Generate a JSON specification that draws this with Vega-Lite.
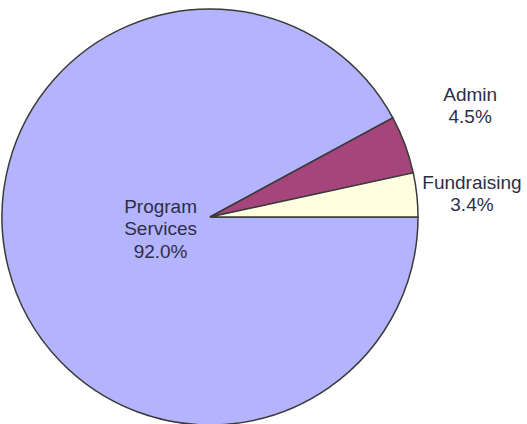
{
  "$schema": "https://vega.github.io/schema/vega-lite/v6.json",
  "width": 420,
  "height": 414,
  "autosize": "none",
  "padding": {"left": 0, "top": 10, "right": 107, "bottom": 0},
  "background": "white",
  "view": {"stroke": null},
  "data": {"values": [
    {"category": "Program Services", "share": 92.0, "label": "Program\nServices\n92.0%", "rank": 1},
    {"category": "Admin", "share": 4.5, "label": "Admin\n4.5%", "rank": 2},
    {"category": "Fundraising", "share": 3.4, "label": "Fundraising\n3.4%", "rank": 3}
  ]},
  "encoding": {
    "theta": {"field": "share", "type": "quantitative", "stack": true, "scale": {"range": [1.5708, 7.854]}},
    "order": {"field": "rank", "type": "quantitative"}
  },
  "layer": [
    {
      "mark": {"type": "arc", "outerRadius": 208, "stroke": "#3a3a3a", "strokeWidth": 1.5},
      "encoding": {
        "color": {"field": "category", "type": "nominal", "legend": null,
          "scale": {"domain": ["Program Services", "Admin", "Fundraising"], "range": ["#b4b4fe", "#a5457b", "#ffffe2"]}}
      }
    },
    {
      "mark": {"type": "text", "radius": 51, "dy": -23, "font": "Liberation Sans", "fontSize": 19, "lineBreak": "\n", "lineHeight": 22.5, "fill": "#2e2e4a", "align": "center", "baseline": "middle"},
      "encoding": {
        "text": {"condition": {"test": "datum.category === 'Program Services'", "field": "label"}, "value": ""}
      }
    },
    {
      "mark": {"type": "text", "radius": 283, "thetaOffset": -0.049, "dy": -11, "font": "Liberation Sans", "fontSize": 19, "lineBreak": "\n", "lineHeight": 22.5, "fill": "#2e2e4a", "align": "center", "baseline": "middle"},
      "encoding": {
        "text": {"condition": {"test": "datum.category === 'Admin'", "field": "label"}, "value": ""}
      }
    },
    {
      "mark": {"type": "text", "radius": 263, "thetaOffset": 0.017, "dy": -10, "font": "Liberation Sans", "fontSize": 19, "lineBreak": "\n", "lineHeight": 22, "fill": "#2e2e4a", "align": "center", "baseline": "middle"},
      "encoding": {
        "text": {"condition": {"test": "datum.category === 'Fundraising'", "field": "label"}, "value": ""}
      }
    }
  ]
}
